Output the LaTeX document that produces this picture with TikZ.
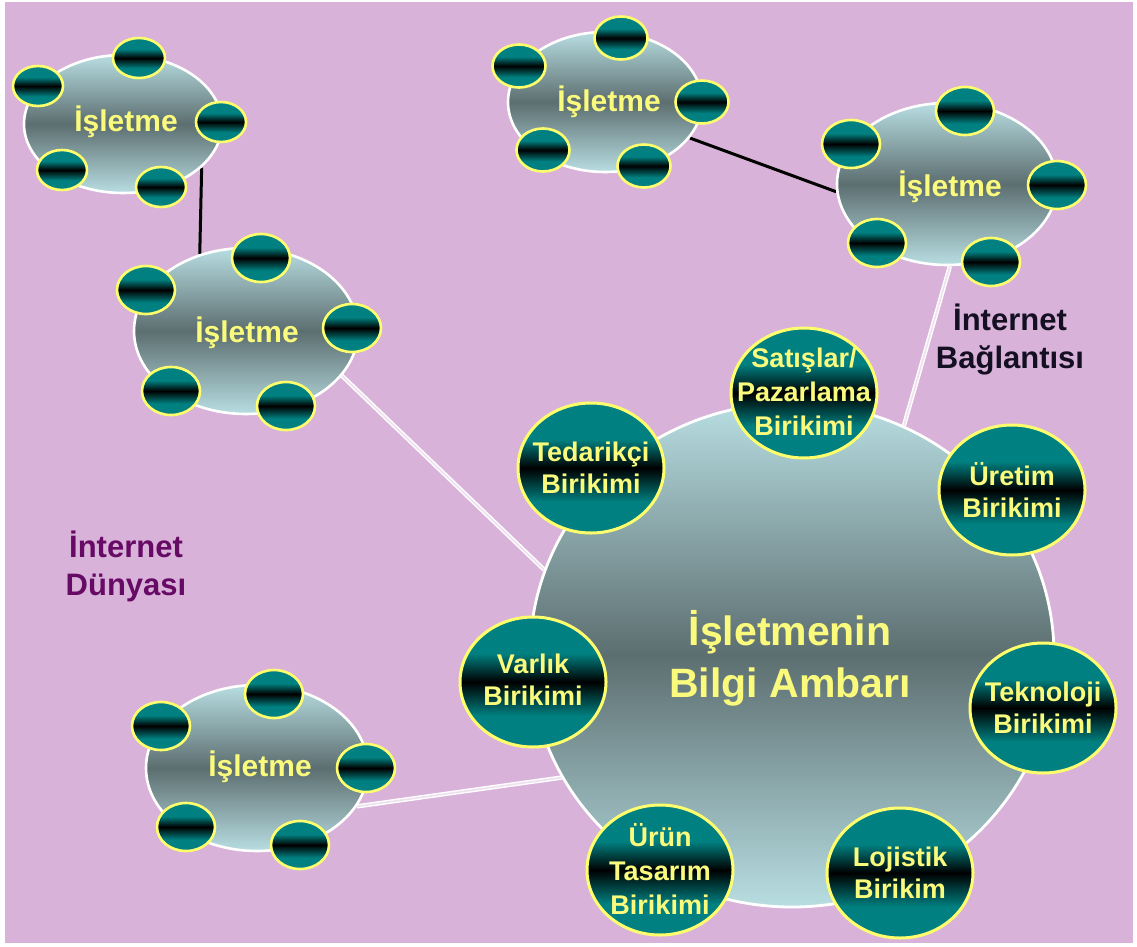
\documentclass[tikz,border=0pt]{standalone}
\usepackage{fontspec}
\setmainfont{Liberation Sans}
\usetikzlibrary{shapes.geometric}

\definecolor{bgc}{RGB}{216,178,216}
\definecolor{tealc}{RGB}{0,128,128}
\definecolor{ringc}{RGB}{255,255,110}
\definecolor{txtc}{RGB}{250,250,125}
\definecolor{bodylight}{RGB}{184,222,226}
\definecolor{bodydark}{RGB}{92,110,112}
\definecolor{purp}{RGB}{102,10,102}
\definecolor{darktxt}{RGB}{20,15,35}

% teal disc with a dark band across the middle
\pgfdeclareverticalshading{disc}{100bp}{color(0bp)=(tealc); color(37bp)=(tealc); color(50bp)=(black); color(61bp)=(tealc); color(100bp)=(tealc)}

\pgfdeclarelayer{back}
\pgfdeclarelayer{links}
\pgfsetlayers{back,links,main}

\begin{document}
\begin{tikzpicture}[x=1pt,y=-1pt,
  body/.style={ellipse, draw=white, line width=2.6pt, top color=bodylight,
    bottom color=bodylight, middle color=bodydark, inner sep=0pt},
  sat/.style={ellipse, draw=ringc, line width=2.6pt, shade, shading=disc, inner sep=0pt},
  smallsat/.style={sat, minimum width=50pt, minimum height=40pt},
  midsat/.style={sat, minimum width=53pt, minimum height=43pt},
  bigsat/.style={sat, minimum width=58pt, minimum height=48pt},
  stock/.style={ellipse, draw=ringc, line width=3pt, shade, shading=disc,
    minimum width=146pt, minimum height=130pt, inner sep=0pt},
  stocktxt/.style={text=txtc, align=center, inner sep=0pt,
    font=\bfseries\fontsize{27}{32}\selectfont},
  stocktxtiii/.style={stocktxt, font=\bfseries\fontsize{27}{34}\selectfont},
  firmtxt/.style={text=txtc, inner sep=0pt, font=\bfseries\fontsize{30}{36}\selectfont},
  webline/.style={draw=white, line width=1.4pt, double=bgc!40!white, double distance=1.6pt},
  firmline/.style={draw=black, line width=3pt},
  note/.style={align=center, inner sep=0pt, font=\bfseries\fontsize{31}{38}\selectfont}
]
\useasboundingbox (0,0) rectangle (1137,947);
\begin{pgfonlayer}{back}
  \fill[white] (0,0) rectangle (1137,947);
  \fill[bgc] (5,2) rectangle (1133,943);
\end{pgfonlayer}

% central knowledge store
\node[ellipse, draw=white, line width=2.8pt, top color=bodylight, bottom color=bodylight,
  middle color=bodydark, minimum width=524pt, minimum height=504pt, inner sep=0pt] (hub) at (792,655) {};
\node[text=txtc, align=center, inner sep=0pt, font=\bfseries\fontsize{41}{52}\selectfont]
  (hubtxt) at (790,658) {İşletmenin\\Bilgi Ambarı};

% accumulations around the store
\node[stock] (sat) at (804,393) {};
\node[stocktxtiii] (sattxt) at (804,392) {Satışlar/\\Pazarlama\\Birikimi};
\node[stock] (ted) at (591,468) {};
\node[stocktxt] (tedtxt) at (591,468) {Tedarikçi\\Birikimi};
\node[stock] (ure) at (1012,490) {};
\node[stocktxt] (uretxt) at (1012,490) {Üretim\\Birikimi};
\node[stock] (var) at (533,682) {};
\node[stocktxt] (vartxt) at (533,680) {Varlık\\Birikimi};
\node[stock] (tek) at (1043,708) {};
\node[stocktxt] (tektxt) at (1043,708) {Teknoloji\\Birikimi};
\node[stock] (uru) at (660,870) {};
\node[stocktxtiii] (urutxt) at (660,869) {Ürün\\Tasarım\\Birikimi};
\node[stock] (loj) at (900,873) {};
\node[stocktxt] (lojtxt) at (900,873) {Lojistik\\Birikim};

% firm 1 (top left)
\node[body, minimum width=198pt, minimum height=138pt] (c1) at (123,124) {};
\node[firmtxt] (c1txt) at (126,122) {İşletme};
\node[smallsat] (c1a) at (38,86) {};
\node[smallsat, minimum width=52pt] (c1b) at (139,58) {};
\node[smallsat] (c1c) at (221,122) {};
\node[smallsat] (c1d) at (62,170) {};
\node[smallsat] (c1e) at (161,187) {};

% firm 2 (top middle)
\node[body, minimum width=194pt, minimum height=140pt] (c2) at (605,102) {};
\node[firmtxt] (c2txt) at (609,102) {İşletme};
\node[midsat] (c2a) at (519,66) {};
\node[midsat] (c2b) at (621,38) {};
\node[midsat] (c2c) at (702,102) {};
\node[midsat] (c2d) at (543,150) {};
\node[midsat] (c2e) at (644,166) {};

% firm 3 (top right)
\node[body, minimum width=220pt, minimum height=162pt] (c3) at (947,184) {};
\node[firmtxt] (c3txt) at (950,187) {İşletme};
\node[bigsat] (c3a) at (851,144) {};
\node[bigsat] (c3b) at (965,111) {};
\node[bigsat] (c3c) at (1057,185) {};
\node[bigsat] (c3d) at (877,243) {};
\node[bigsat] (c3e) at (991,262) {};

% firm 4 (middle left)
\node[body, minimum width=224pt, minimum height=166pt] (c4) at (246,331) {};
\node[firmtxt] (c4txt) at (247,333) {İşletme};
\node[bigsat] (c4a) at (146,290) {};
\node[bigsat] (c4b) at (261,258) {};
\node[bigsat] (c4c) at (352,328) {};
\node[bigsat] (c4d) at (171,391) {};
\node[bigsat] (c4e) at (286,406) {};

% firm 5 (bottom left)
\node[body, minimum width=222pt, minimum height=166pt] (c5) at (257,768) {};
\node[firmtxt] (c5txt) at (260,767) {İşletme};
\node[bigsat] (c5a) at (161,726) {};
\node[bigsat] (c5b) at (274,694) {};
\node[bigsat] (c5c) at (366,768) {};
\node[bigsat] (c5d) at (186,827) {};
\node[bigsat] (c5e) at (300,845) {};

% labels
\node[note, text=darktxt] (conn) at (1010,340) {İnternet\\Bağlantısı};
\node[note, text=purp] (world) at (126,566) {İnternet\\Dünyası};

% links between firms and to the store
\begin{pgfonlayer}{links}
  \draw[firmline] (c1.-29) -- (c4.121.5);
  \draw[firmline] (c2.-23) -- (c3.184.7);
  \draw[webline] (c4.-25.8) -- (hub.161.5);
  \draw[webline] (c5.-21.2) -- (hub.208.5);
  \draw[webline] (c3.-88) -- (hub.64.5);
\end{pgfonlayer}
\end{tikzpicture}
\end{document}
